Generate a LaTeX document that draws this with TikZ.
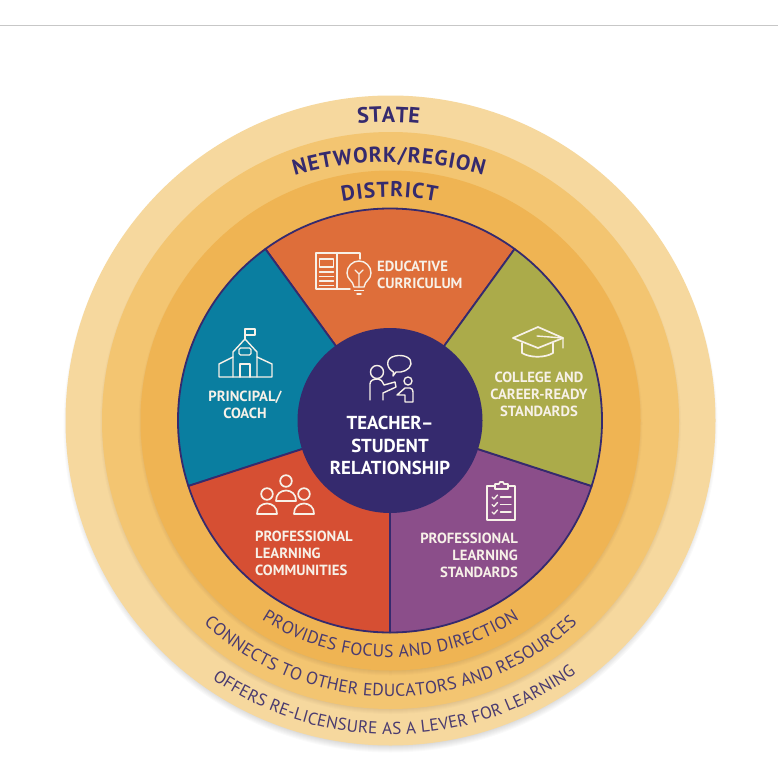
\documentclass[tikz,border=0pt]{standalone}
\usepackage{fontspec}
\setmainfont{PT Sans}
\usetikzlibrary{decorations.text,calc}
\definecolor{ringA}{HTML}{F6D89E}
\definecolor{ringB}{HTML}{F3C571}
\definecolor{ringC}{HTML}{EFB453}
\definecolor{navy}{HTML}{352A6E}
\definecolor{softnavy}{HTML}{4A3B70}
\definecolor{secO}{HTML}{DE6E3A}
\definecolor{secG}{HTML}{ABAB4A}
\definecolor{secP}{HTML}{8B4E8A}
\definecolor{secR}{HTML}{D64F33}
\definecolor{secT}{HTML}{0A7EA0}
\definecolor{ink}{HTML}{F7F1E8}
\tikzset{
  x=1pt,y=1pt,
  sector/.style={draw=navy,line width=1.8pt,line join=round},
  lab/.style={text=ink,inner sep=0pt,font=\fontsize{14.7}{17}\selectfont\bfseries},
  icon/.style={draw=ink,line width=1.7pt,line join=round,line cap=round,fill=none},
  thin icon/.style={draw=ink,line width=1.4pt,line join=round,line cap=round,fill=none},
}
\newcommand{\softshadow}[3]{% radius, offset, opacity
  \foreach \i in {0,1,...,7}{
    \fill[black,opacity=#3] (390.5,-420.5-#2) circle[radius=#1+2-\i];
  }
}
\newcommand{\arctext}[7]{% cx cy radius a b format text
  \path[decorate,decoration={text along path,text align=fit to path,
    text={|#6|#7}}]
    ($(#1,-#2)+(#4:#3)$) arc[start angle=#4,end angle=#5,radius=#3];
}
\begin{document}
\begin{tikzpicture}
\useasboundingbox (0,0) rectangle (778,-784);
\fill[white] (0,0) rectangle (778,-784);
\draw[black!22,line width=0.8pt] (0,-25) -- (778,-25);

\softshadow{325}{5}{0.018}
\fill[ringA] (390.5,-420.5) circle[radius=325];
\softshadow{288.5}{3}{0.014}
\fill[ringB] (390.5,-420.5) circle[radius=288.5];
\softshadow{250}{3}{0.014}
\fill[ringC] (390.5,-420.5) circle[radius=250];

\coordinate (c) at (390,-420.5);
\draw[sector,fill=secO] (c) -- +(54:212) arc[start angle=54,end angle=126,radius=212] -- cycle;
\draw[sector,fill=secT] (c) -- +(126:212) arc[start angle=126,end angle=198,radius=212] -- cycle;
\draw[sector,fill=secR] (c) -- +(198:212) arc[start angle=198,end angle=270,radius=212] -- cycle;
\draw[sector,fill=secP] (c) -- +(270:212) arc[start angle=270,end angle=342,radius=212] -- cycle;
\draw[sector,fill=secG] (c) -- +(342:212) arc[start angle=342,end angle=414,radius=212] -- cycle;
\fill[navy] (c) circle[radius=92.5];

\arctext{388}{420}{298}{95.8}{84.2}{\color{navy}\fontsize{22}{22}\selectfont\bfseries}{STATE}
\arctext{389}{502}{340}{106.1}{73.9}{\color{navy}\fontsize{21.6}{22}\selectfont\bfseries}{NETWORK/REGION}
\arctext{389.5}{437}{240}{101.3}{78.7}{\color{navy}\fontsize{21.5}{22}\selectfont\bfseries}{DISTRICT}
\arctext{390.5}{420.5}{237}{237.1}{302.9}{\color{softnavy}\fontsize{17.6}{18}\selectfont}{PROVIDES FOCUS AND DIRECTION}
\arctext{390.5}{420.5}{276}{227.4}{312.6}{\color{softnavy}\fontsize{17.6}{18}\selectfont}{CONNECTS TO OTHER EDUCATORS AND RESOURCES}
\arctext{390.5}{420.5}{314}{235.4}{306.2}{\color{softnavy}\fontsize{17.2}{18}\selectfont}{OFFERS RE-LICENSURE AS A LEVER FOR LEARNING}

\node[lab,align=left,anchor=west] (edu) at (377,-274.5) {EDUCATIVE\\CURRICULUM};
\node[lab,align=center] (pri) at (245,-404.5) {PRINCIPAL/\\COACH};
\node[lab,align=center] (col) at (539,-394) {COLLEGE AND\\CAREER-READY\\STANDARDS};
\node[lab,align=left,anchor=west] (plc) at (255,-553.5) {PROFESSIONAL\\LEARNING\\COMMUNITIES};
\node[lab,align=right,anchor=east] (pls) at (518,-555) {PROFESSIONAL\\LEARNING\\STANDARDS};
\node[text=white,inner sep=0pt,align=center,font=\fontsize{18.8}{22.5}\selectfont\bfseries] (tsr) at (390,-445.5) {TEACHER–\\STUDENT\\RELATIONSHIP};

% book and bulb
\draw[thin icon] (350,-289) -- (316,-289) -- (316,-253) -- (360,-253) -- (360,-259);
\draw[thin icon] (337,-253) -- (337,-289);
\draw[thin icon] (319.5,-259) rectangle (333.5,-267);
\foreach \y in {272,276.5,281,285.5}{\draw[thin icon] (319.5,-\y) -- (333.5,-\y);}
\draw[thin icon] (354,-287) .. controls (353,-280) and (347,-280) .. (347,-273) arc[start angle=180,end angle=0,radius=12] .. controls (371,-280) and (365,-280) .. (364,-287) -- cycle;
\draw[thin icon] (359,-287) -- (359,-274) -- (355,-270) (359,-274) -- (363,-270);
\draw[thin icon] (354.5,-290.5) -- (363.5,-290.5) (357,-294) -- (361,-294);

% school
\draw[thin icon] (245,-339) -- (245,-329) -- (255,-329) -- (255,-335) -- (245,-335);
\draw[thin icon] (233,-377) -- (233,-352) -- (245,-339) -- (257,-352) -- (257,-377);
\draw[thin icon] (233,-357) -- (219,-364) -- (219,-377) -- (272,-377) -- (272,-364) -- (257,-357);
\draw[thin icon] (240,-377) -- (240,-364) -- (250,-364) -- (250,-377);
\draw[thin icon,rounded corners=1.5pt] (239,-348) rectangle (251,-355);

% cap
\draw[icon] (513,-338) -- (538,-327) -- (563,-338) -- (538,-348) -- cycle;
\draw[icon] (522,-343) -- (522,-353) .. controls (530,-358) and (545,-358) .. (553,-353) -- (553,-343);
\draw[thin icon] (537,-336) -- (563,-338) -- (563,-348);

% people
\foreach \hx/\hy in {286/481,267/494,304/494}{
  \draw[icon] (\hx,-\hy) circle[radius=5.8];
  \draw[icon] ({\hx-10},-\hy-20) .. controls ({\hx-10.5},-\hy-6) and ({\hx+10.5},-\hy-6) .. ({\hx+10},-\hy-20) -- cycle;
}

% clipboard
\draw[icon] (495,-486) -- (487,-486) -- (487,-520) -- (515,-520) -- (515,-486) -- (508,-486);
\draw[icon] (495,-489) -- (495,-484) -- (499,-484) -- (500,-482) -- (503,-482) -- (504,-484) -- (508,-484) -- (508,-489) -- cycle;
\foreach \y in {497,504.5,512}{
  \draw[thin icon] (492,-\y) -- (494,-\y-2) -- (497.5,-\y+2);
  \draw[thin icon] (500.5,-\y) -- (511,-\y);
}

% teacher and student
\draw[thin icon] (377,-372) circle[radius=6.5];
\draw[thin icon] (393.5,-372) .. controls (386,-368) and (385,-358) .. (395,-356) .. controls (404,-354) and (412,-358) .. (411,-364) .. controls (410,-370) and (402,-373) .. (396,-372) -- (393,-376) -- cycle;
\draw[thin icon] (370,-400) -- (370,-384) .. controls (370,-380) and (374,-379) .. (378,-379) .. controls (381,-379) and (382,-381) .. (384,-385) -- (395,-382) -- (396,-387) -- (383,-393) -- (383,-400);
\draw[thin icon] (408,-381) circle[radius=4];
\draw[thin icon] (397,-395) -- (405,-388) -- (410,-388) .. controls (412,-388) and (413,-390) .. (413,-392) -- (413,-402) -- (405,-402) -- (405,-395) -- cycle;
\end{tikzpicture}
\end{document}
